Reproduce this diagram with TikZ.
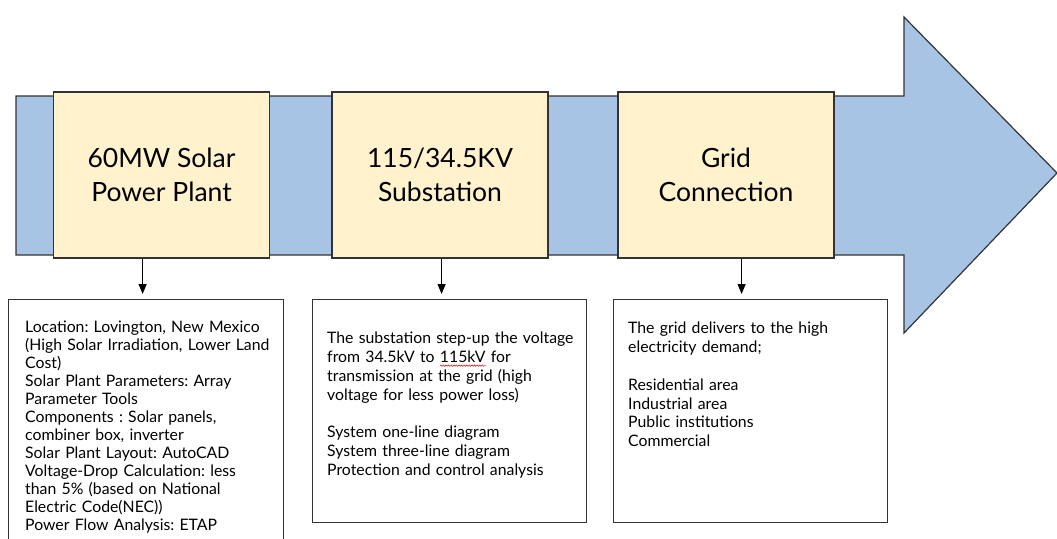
\documentclass[tikz,border=0pt]{standalone}
\usepackage{fontspec}
\setmainfont{Lato}
\frenchspacing
\usetikzlibrary{arrows.meta, decorations.pathmorphing}

\definecolor{bandblue}{HTML}{A8C4E4}
\definecolor{stageyellow}{HTML}{FFF2CC}
\definecolor{edgegray}{HTML}{333333}
\newlength{\wavewidth}
\newcommand{\redwave}[1]{\settowidth{\wavewidth}{#1}\rlap{\tikz[overlay, x=1pt, y=1pt]
   \draw[red!85!black, line width=0.5pt, decorate, decoration={snake, amplitude=0.7pt, segment length=2.6pt}]
   (0,-3) -- (\wavewidth,-3);}#1}

\begin{document}
\begin{tikzpicture}[x=1pt, y=-1pt,
      stage/.style ={draw=edgegray, line width=1.4pt, fill=stageyellow, minimum width=216pt, minimum height=166pt, inner sep=0pt, align=center, font=\fontsize{26.5}{34}\selectfont},
      detailbox/.style ={draw=edgegray, line width=1.2pt, minimum width=274pt, inner sep=0pt, anchor=north west},
      detailtext/.style ={anchor=north west, inner sep=0pt, align=left, text width=265pt, font=\fontsize{15.8}{18.8}\selectfont},
      feed/.style ={line width=1.2pt, shorten >=5pt, -{Triangle[width=8pt,length=10pt]}}]

   \useasboundingbox (0,0) rectangle (1057,538);
   \clip (0,0) rectangle (1057,538);

   \draw[draw=edgegray, line width=1.2pt, fill=bandblue] (16,96) -- (904,96) -- (904,17) -- (1057,173)
      -- (904,333) -- (904,255) -- (16,255) -- cycle;

   \node[stage] (plant) at (161.5,175) {60MW Solar\\Power Plant};
   \node[stage] (substation) at (440,175) {115/34.5KV\\Substation};
   \node[stage] (grid) at (726,175) {Grid\\Connection};

   \node[detailbox, minimum width=275pt, minimum height=260pt] (plantinfo) at (8,299) {};
   \node[detailbox, minimum height=223pt] (substationinfo) at (312,299) {};
   \node[detailbox, minimum height=223pt] (gridinfo) at (613,299) {};

   \node[detailtext, font=\fontsize{15.8}{18}\selectfont] (planttext) at (25,321) {Location: Lovington, New Mexico\\
      (High Solar Irradiation, Lower Land\\ Cost)\\ Solar Plant Parameters: Array\\
      Parameter Tools\\ Components : Solar panels,\\ combiner box, inverter\\
      Solar Plant Layout: AutoCAD\\ Voltage-Drop Calculation: less\\
      than 5\% (based on National\\ Electric Code(NEC))\\ Power Flow Analysis: ETAP};
   \node[detailtext] (substationtext) at (327,332) {The substation step-up the voltage\\
      from 34.5kV to \redwave{115kV} for\\ transmission at the grid (high\\
      voltage for less power loss)\\[18.8pt] System one-line diagram\\
      System three-line diagram\\ Protection and control analysis};
   \node[detailtext] (gridtext) at (628,322) {The grid delivers to the high\\
      electricity demand;\\[18.8pt] Residential area\\ Industrial area\\
      Public institutions\\ Commercial};

   \draw[feed] ([xshift=-3.5pt]plantinfo.north |- plant.south) to ([xshift=-3.5pt]plantinfo.north);
   \draw[feed] ([xshift=-8pt]substationinfo.north |- substation.south) to ([xshift=-8pt]substationinfo.north);
   \draw[feed] ([xshift=-9pt]gridinfo.north |- grid.south) to ([xshift=-9pt]gridinfo.north);

 \end{tikzpicture}
\end{document}
